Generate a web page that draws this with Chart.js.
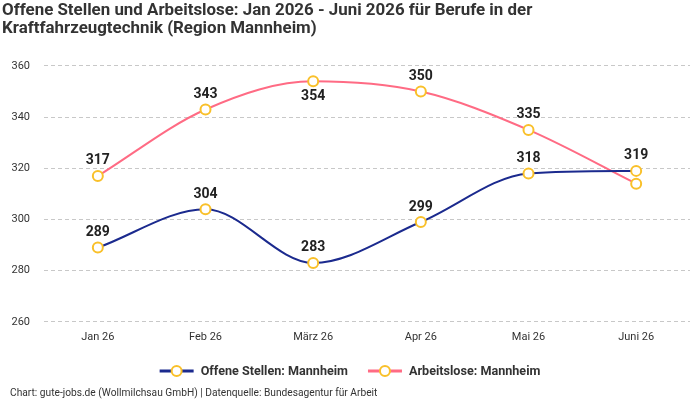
<!DOCTYPE html>
<html><head><meta charset="utf-8">
<script src="https://cdn.jsdelivr.net/npm/chart.js@4/dist/chart.umd.min.js"></script>
<style>html,body{margin:0;padding:0;background:#fff}#wrap{width:700px;height:400px}</style>
</head><body><div id="wrap"><canvas id="c"></canvas></div>
<script>
const categories = ["Jan 26","Feb 26","März 26","Apr 26","Mai 26","Juni 26"];
const offeneStellen = [289, 304, 283, 299, 318, 319];
const arbeitslose = [317, 343, 354, 350, 335, 314];
const arbeitsloseLabelShown = [true, true, true, true, true, false];
const arbeitsloseLabelBelow = [false, false, true, false, false, false];
const yTicks = [260, 280, 300, 320, 340, 360];
const footerText = 'Chart: gute-jobs.de (Wollmilchsau GmbH) | Datenquelle: Bundesagentur für Arbeit';

const FONT = "Roboto, 'Noto Sans', sans-serif";
const BLUE = "#1b2a8e", PINK = "#ff6b84", YEL = "#f9c02a";

const valueLabels = {
  id: 'valueLabels',
  afterDatasetsDraw(chart){
    const ctx = chart.ctx;
    ctx.save();
    ctx.font = "bold 14px " + FONT;
    ctx.fillStyle = '#222';
    ctx.textAlign = 'center'; ctx.textBaseline = 'middle';
    chart.data.datasets.forEach((ds, di) => {
      const meta = chart.getDatasetMeta(di);
      meta.data.forEach((pt, i) => {
        if (di === 1 && !arbeitsloseLabelShown[i]) return;
        const below = di === 1 && arbeitsloseLabelBelow[i];
        ctx.fillText(String(ds.data[i]), pt.x, pt.y + (below ? 15 : -15));
      });
    });
    ctx.restore();
  }
};

const legendFooter = {
  id: 'legendFooter',
  afterDraw(chart){
    const ctx = chart.ctx;
    ctx.save();
    ctx.font = "bold 12.6px " + FONT;
    ctx.textBaseline = 'middle';
    const ds = chart.data.datasets;
    const lineW = 34, gap = 7, spacing = 20, y = 371;
    const widths = ds.map(d => ctx.measureText(d.label).width);
    let total = 0;
    widths.forEach((w, i) => { total += lineW + gap + w + (i ? spacing : 0); });
    let x = chart.width / 2 - total / 2;
    ds.forEach((d, i) => {
      ctx.strokeStyle = d.borderColor; ctx.lineWidth = 3;
      ctx.beginPath(); ctx.moveTo(x, y); ctx.lineTo(x + lineW, y); ctx.stroke();
      ctx.fillStyle = '#fff'; ctx.strokeStyle = YEL; ctx.lineWidth = 2;
      ctx.beginPath(); ctx.arc(x + lineW / 2, y, 5, 0, Math.PI * 2); ctx.fill(); ctx.stroke();
      ctx.fillStyle = '#333'; ctx.textAlign = 'left';
      ctx.fillText(d.label, x + lineW + gap, y + 0.5);
      x += lineW + gap + widths[i] + spacing;
    });
    ctx.font = "10.2px " + FONT;
    ctx.fillStyle = '#333';
    ctx.fillText(footerText, 10, 393);
    ctx.restore();
  }
};

new Chart(document.getElementById('c'), {
  type: 'line',
  data: {
    labels: categories,
    datasets: [
      {label: 'Offene Stellen: Mannheim', data: offeneStellen, borderColor: BLUE, backgroundColor: BLUE},
      {label: 'Arbeitslose: Mannheim', data: arbeitslose, borderColor: PINK, backgroundColor: PINK}
    ]
  },
  options: {
    responsive: true, maintainAspectRatio: false, animation: false,
    layout: {padding: {left: 2, right: 10, top: 2, bottom: 48}},
    elements: {
      line: {borderWidth: 2, cubicInterpolationMode: 'monotone', fill: false},
      point: {radius: 5, borderWidth: 2, borderColor: YEL, backgroundColor: '#fff', hoverRadius: 5}
    },
    datasets: {line: {pointBorderColor: YEL, pointBackgroundColor: '#fff'}},
    scales: {
      x: {offset: true, grid: {display: false, drawTicks: false}, border: {display: false},
          ticks: {color: '#333', font: {family: FONT, size: 11}, padding: 8.5}},
      y: {min: 260, max: 360, border: {display: false, dash: [4, 3]},
          afterBuildTicks(axis){ axis.ticks = yTicks.map(v => ({value: v})); },
          afterFit(axis){ axis.width = 42; },
          grid: {color: '#c8c8c8', lineWidth: 1, drawTicks: false},
          ticks: {color: '#333', font: {family: FONT, size: 11}, padding: 14}}
    },
    plugins: {
      title: {display: true, align: 'start', color: '#333',
        text: ['Offene Stellen und Arbeitslose: Jan 2026 - Juni 2026 für Berufe in der', 'Kraftfahrzeugtechnik (Region Mannheim)'],
        font: {family: FONT, size: 16.9, weight: 'bold', lineHeight: 1.065}, padding: {top: 0, bottom: 28}},
      legend: {display: false},
      tooltip: {enabled: false}
    }
  },
  plugins: [valueLabels, legendFooter]
});
</script>
</body></html>
